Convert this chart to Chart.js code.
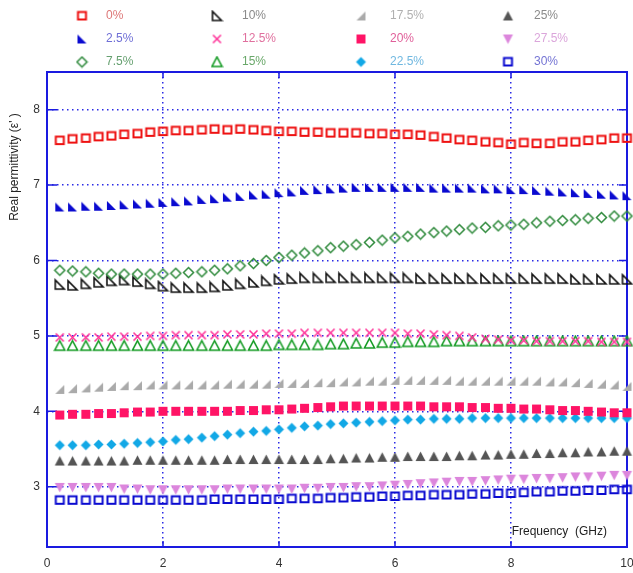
<!DOCTYPE html>
<html>
<head>
<meta charset="utf-8">
<script src="https://cdn.jsdelivr.net/npm/chart.js@4.4.1/dist/chart.umd.min.js"></script>
<style>
  html, body { margin: 0; padding: 0; background: #fff; }
  #wrap { width: 633px; height: 573px; }
</style>
</head>
<body>
<div id="wrap"><canvas id="permChart" width="633" height="573"></canvas></div>
<script>
// Frequency sweep (GHz)
const freqGHz = [0.22, 0.44, 0.67, 0.89, 1.11, 1.33, 1.56, 1.78, 2.00,
                 2.22, 2.44, 2.67, 2.89, 3.11, 3.33, 3.56, 3.78, 4.00,
                 4.22, 4.44, 4.67, 4.89, 5.11, 5.33, 5.56, 5.78, 6.00,
                 6.22, 6.44, 6.67, 6.89, 7.11, 7.33, 7.56, 7.78, 8.00,
                 8.22, 8.44, 8.67, 8.89, 9.11, 9.33, 9.56, 9.78, 10.00];

// Real permittivity per filler content
const eps0 = [7.59, 7.61, 7.62, 7.64, 7.65, 7.67, 7.68, 7.70, 7.71,
              7.72, 7.72, 7.73, 7.74, 7.73, 7.74, 7.73, 7.72, 7.71,
              7.71, 7.70, 7.70, 7.69, 7.69, 7.69, 7.68, 7.68, 7.67,
              7.67, 7.66, 7.64, 7.62, 7.60, 7.59, 7.57, 7.56, 7.54,
              7.56, 7.55, 7.55, 7.57, 7.57, 7.59, 7.60, 7.62, 7.62];
const eps2_5 = [6.71, 6.71, 6.72, 6.72, 6.73, 6.74, 6.75, 6.76, 6.77,
                6.78, 6.79, 6.81, 6.82, 6.84, 6.85, 6.87, 6.88, 6.90,
                6.91, 6.93, 6.94, 6.95, 6.96, 6.97, 6.97, 6.97, 6.97,
                6.97, 6.97, 6.96, 6.96, 6.96, 6.96, 6.95, 6.95, 6.94,
                6.94, 6.93, 6.92, 6.91, 6.90, 6.89, 6.88, 6.87, 6.86];
const eps7_5 = [5.87, 5.86, 5.85, 5.83, 5.82, 5.82, 5.82, 5.82, 5.82,
                5.83, 5.84, 5.85, 5.87, 5.89, 5.93, 5.96, 6.00, 6.04,
                6.07, 6.10, 6.13, 6.17, 6.19, 6.21, 6.24, 6.27, 6.30,
                6.32, 6.35, 6.37, 6.39, 6.41, 6.43, 6.44, 6.46, 6.47,
                6.48, 6.50, 6.52, 6.53, 6.54, 6.56, 6.57, 6.59, 6.59];
const eps10 = [5.68, 5.67, 5.69, 5.71, 5.73, 5.74, 5.72, 5.69, 5.66,
               5.64, 5.64, 5.64, 5.65, 5.67, 5.69, 5.71, 5.73, 5.75,
               5.76, 5.77, 5.77, 5.77, 5.77, 5.77, 5.77, 5.77, 5.77,
               5.77, 5.76, 5.76, 5.76, 5.76, 5.76, 5.76, 5.76, 5.76,
               5.76, 5.76, 5.76, 5.76, 5.75, 5.75, 5.75, 5.75, 5.75];
const eps12_5 = [4.98, 4.98, 4.98, 4.98, 4.99, 4.99, 4.99, 5.00, 5.00,
                 5.01, 5.01, 5.01, 5.01, 5.02, 5.02, 5.02, 5.03, 5.03,
                 5.03, 5.04, 5.04, 5.04, 5.04, 5.04, 5.04, 5.04, 5.04,
                 5.03, 5.03, 5.02, 5.01, 5.00, 4.98, 4.96, 4.95, 4.94,
                 4.94, 4.93, 4.93, 4.93, 4.93, 4.93, 4.92, 4.92, 4.92];
const eps15 = [4.87, 4.87, 4.87, 4.87, 4.87, 4.87, 4.87, 4.87, 4.87,
               4.87, 4.87, 4.87, 4.87, 4.87, 4.87, 4.87, 4.87, 4.88,
               4.88, 4.88, 4.88, 4.89, 4.89, 4.90, 4.90, 4.91, 4.91,
               4.92, 4.92, 4.92, 4.93, 4.93, 4.93, 4.93, 4.93, 4.93,
               4.93, 4.93, 4.93, 4.93, 4.93, 4.93, 4.93, 4.93, 4.93];
const eps17_5 = [4.29, 4.30, 4.31, 4.32, 4.33, 4.34, 4.34, 4.35, 4.35,
                 4.35, 4.35, 4.35, 4.35, 4.36, 4.36, 4.36, 4.36, 4.37,
                 4.37, 4.37, 4.38, 4.38, 4.39, 4.39, 4.40, 4.40, 4.41,
                 4.41, 4.41, 4.41, 4.41, 4.40, 4.40, 4.40, 4.40, 4.40,
                 4.40, 4.40, 4.39, 4.39, 4.38, 4.37, 4.36, 4.35, 4.33];
const eps20 = [3.95, 3.96, 3.96, 3.97, 3.97, 3.98, 3.99, 3.99, 4.00,
               4.00, 4.00, 4.00, 4.00, 4.00, 4.01, 4.01, 4.02, 4.02,
               4.03, 4.04, 4.05, 4.06, 4.07, 4.07, 4.07, 4.07, 4.07,
               4.07, 4.07, 4.06, 4.06, 4.06, 4.05, 4.05, 4.04, 4.04,
               4.03, 4.03, 4.02, 4.01, 4.01, 4.00, 3.99, 3.98, 3.98];
const eps22_5 = [3.55, 3.55, 3.55, 3.56, 3.56, 3.57, 3.58, 3.59, 3.60,
                 3.62, 3.63, 3.65, 3.67, 3.69, 3.71, 3.73, 3.74, 3.76,
                 3.78, 3.80, 3.81, 3.83, 3.84, 3.85, 3.86, 3.87, 3.88,
                 3.89, 3.89, 3.90, 3.90, 3.90, 3.91, 3.91, 3.91, 3.91,
                 3.91, 3.91, 3.91, 3.91, 3.91, 3.91, 3.91, 3.91, 3.91];
const eps25 = [3.34, 3.34, 3.34, 3.34, 3.34, 3.34, 3.35, 3.35, 3.35,
               3.35, 3.35, 3.35, 3.35, 3.36, 3.36, 3.36, 3.36, 3.36,
               3.36, 3.36, 3.36, 3.37, 3.37, 3.38, 3.38, 3.39, 3.39,
               3.40, 3.40, 3.40, 3.40, 3.41, 3.41, 3.42, 3.42, 3.43,
               3.43, 3.44, 3.44, 3.45, 3.45, 3.46, 3.46, 3.47, 3.47];
const eps27_5 = [2.99, 2.99, 2.99, 2.99, 2.99, 2.97, 2.97, 2.96, 2.96,
                 2.96, 2.96, 2.96, 2.96, 2.97, 2.97, 2.97, 2.97, 2.97,
                 2.97, 2.98, 2.98, 2.99, 2.99, 3.00, 3.00, 3.01, 3.02,
                 3.03, 3.04, 3.05, 3.06, 3.07, 3.07, 3.08, 3.09, 3.10,
                 3.10, 3.11, 3.11, 3.12, 3.13, 3.13, 3.14, 3.15, 3.15];
const eps30 = [2.82, 2.82, 2.82, 2.82, 2.82, 2.82, 2.82, 2.82, 2.82,
               2.82, 2.82, 2.82, 2.83, 2.83, 2.83, 2.83, 2.83, 2.83,
               2.84, 2.84, 2.84, 2.85, 2.85, 2.86, 2.86, 2.87, 2.87,
               2.88, 2.88, 2.89, 2.89, 2.89, 2.90, 2.90, 2.91, 2.91,
               2.92, 2.93, 2.93, 2.94, 2.94, 2.95, 2.95, 2.96, 2.96];

const seriesLabels = ['0%', '2.5%', '7.5%', '10%', '12.5%', '15%',
                      '17.5%', '20%', '22.5%', '25%', '27.5%', '30%'];
const xTicks = [0, 2, 4, 6, 8, 10];
const yTicks = [3, 4, 5, 6, 7, 8];

// Small canvases used as point styles
function makeMarker(draw) {
    const c = document.createElement('canvas');
    c.width = 13; c.height = 13;
    const g = c.getContext('2d');
    g.lineJoin = 'miter';
    draw(g);
    return c;
}
function poly(g, pts) {
    g.beginPath();
    g.moveTo(pts[0][0], pts[0][1]);
    for (var i = 1; i < pts.length; i++) g.lineTo(pts[i][0], pts[i][1]);
    g.closePath();
}
function openShape(color, pts, w) {
    return makeMarker(g => { poly(g, pts); g.strokeStyle = color; g.lineWidth = w || 1.6; g.stroke(); });
}
function filledShape(color, pts) {
    return makeMarker(g => { poly(g, pts); g.fillStyle = color; g.fill(); });
}
const SQ = [[2.5, 2.5], [10.5, 2.5], [10.5, 10], [2.5, 10]];
const RT_L = [[2, 2], [2, 11], [11, 11]];        // right angle bottom-left
const RT_R = [[11, 2], [11, 11], [2, 11]];       // right angle bottom-right
const DIA = [[6.5, 1.5], [11.5, 6.5], [6.5, 11.5], [1.5, 6.5]];
const TRI_UP = [[6.5, 1.5], [11.5, 11], [1.5, 11]];
const TRI_DN = [[1.5, 2], [11.5, 2], [6.5, 11.5]];

const seriesColors = ['#ee1111', '#0a0ad0', '#2f8a3c', '#111111', '#ff3399', '#129a22',
                      '#aaaaaa', '#ff1466', '#12a8e6', '#555555', '#dc86dc', '#0a0ad0'];
const textColors = ['#dd7777', '#6f6fd6', '#66a070', '#8a8a8a', '#e0709e', '#6aa86a',
                    '#b0b0b0', '#e0609a', '#70b8e0', '#8a8a8a', '#dba6db', '#7474d4'];

const markers = [
    openShape(seriesColors[0], SQ, 2),
    filledShape(seriesColors[1], RT_L),
    openShape(seriesColors[2], DIA, 1.5),
    openShape(seriesColors[3], RT_L, 1.6),
    makeMarker(g => {
        g.strokeStyle = seriesColors[4]; g.lineWidth = 1.6;
        g.beginPath(); g.moveTo(2.5, 2.5); g.lineTo(10.5, 10.5);
        g.moveTo(10.5, 2.5); g.lineTo(2.5, 10.5); g.stroke();
    }),
    openShape(seriesColors[5], TRI_UP, 1.6),
    filledShape(seriesColors[6], RT_R),
    filledShape(seriesColors[7], [[2, 2], [11, 2], [11, 11], [2, 11]]),
    filledShape(seriesColors[8], DIA),
    filledShape(seriesColors[9], TRI_UP),
    filledShape(seriesColors[10], TRI_DN),
    openShape(seriesColors[11], SQ, 2)
];

const seriesValues = [eps0, eps2_5, eps7_5, eps10, eps12_5, eps15,
                      eps17_5, eps20, eps22_5, eps25, eps27_5, eps30];

const datasets = seriesValues.map((vals, i) => ({
    label: seriesLabels[i],
    data: vals.map((v, k) => ({ x: freqGHz[k], y: v })),
    pointStyle: markers[i],
    showLine: false,
    clip: 10
}));

// Legend grid: columns of three, read top to bottom
const legendCols = [[82, 106], [217, 242], [361, 390], [508, 534]];
const legendRows = [16, 39, 62];

const FRAME = '#1a1ae0';
const FONT = '"Liberation Sans", Arial, sans-serif';

const framePlugin = {
    id: 'frame',
    beforeDatasetsDraw(chart) {
        const { ctx, chartArea: a, scales } = chart;
        ctx.save();
        ctx.strokeStyle = FRAME;
        ctx.lineWidth = 2;
        ctx.strokeRect(a.left, a.top, a.right - a.left, a.bottom - a.top);
        // inward tick marks
        ctx.lineWidth = 1.5;
        ctx.beginPath();
        xTicks.slice(1, -1).forEach(t => {
            const x = scales.x.getPixelForValue(t);
            ctx.moveTo(x, a.bottom); ctx.lineTo(x, a.bottom - 6);
            ctx.moveTo(x, a.top); ctx.lineTo(x, a.top + 6);
        });
        yTicks.forEach(t => {
            const y = scales.y.getPixelForValue(t);
            ctx.moveTo(a.left, y); ctx.lineTo(a.left + 10, y);
            ctx.moveTo(a.right, y); ctx.lineTo(a.right - 8, y);
        });
        ctx.stroke();
        ctx.restore();
    },
    afterDraw(chart) {
        const { ctx, chartArea: a } = chart;
        ctx.save();
        ctx.font = '12px ' + FONT;
        ctx.textBaseline = 'middle';
        // legend
        seriesLabels.forEach((lab, i) => {
            const col = legendCols[Math.floor(i / 3)];
            const y = legendRows[i % 3];
            ctx.drawImage(markers[i], col[0] - 6.5, y - 6.5);
            ctx.fillStyle = textColors[i];
            ctx.textAlign = 'left';
            ctx.fillText(lab, col[1], y);
        });
        // axis titles
        ctx.fillStyle = '#222';
        ctx.textAlign = 'right';
        ctx.fillText('Frequency  (GHz)', a.right - 20, 532);
        ctx.translate(15, 167);
        ctx.rotate(-Math.PI / 2);
        ctx.textAlign = 'center';
        ctx.fillText("Real permittivity (\u03b5' )", 0, 0);
        ctx.restore();
    }
};

new Chart(document.getElementById('permChart'), {
    type: 'scatter',
    data: { datasets: datasets },
    plugins: [framePlugin],
    options: {
        responsive: false,
        animation: false,
        layout: { padding: { top: 72, right: 5, left: 0, bottom: 0 } },
        plugins: { legend: { display: false }, tooltip: { enabled: false } },
        scales: {
            x: {
                type: 'linear',
                min: 0, max: 10,
                afterBuildTicks: s => { s.ticks = xTicks.map(v => ({ value: v })); },
                afterFit: s => { s.height = 26; s.paddingLeft = 0; s.paddingRight = 0; },
                grid: {
                    color: ctx => (ctx.tick && (ctx.tick.value === 0 || ctx.tick.value === 10)) ? 'rgba(0,0,0,0)' : '#2a2ae6',
                    lineWidth: 1.5,
                    drawTicks: false
                },
                border: { display: false, dash: [1.5, 3.5] },
                ticks: { padding: 9, color: '#333', font: { family: FONT, size: 12 } }
            },
            y: {
                type: 'linear',
                min: 2.2, max: 8.5,
                afterBuildTicks: s => { s.ticks = yTicks.map(v => ({ value: v })); },
                afterFit: s => { s.width = 47; s.paddingTop = 0; s.paddingBottom = 0; },
                grid: { color: '#2a2ae6', lineWidth: 1.5, drawTicks: false },
                border: { display: false, dash: [1.5, 3.5] },
                ticks: { padding: 7, color: '#333', font: { family: FONT, size: 12 } }
            }
        },
        elements: { point: { radius: 5 } }
    }
});
</script>
</body>
</html>
